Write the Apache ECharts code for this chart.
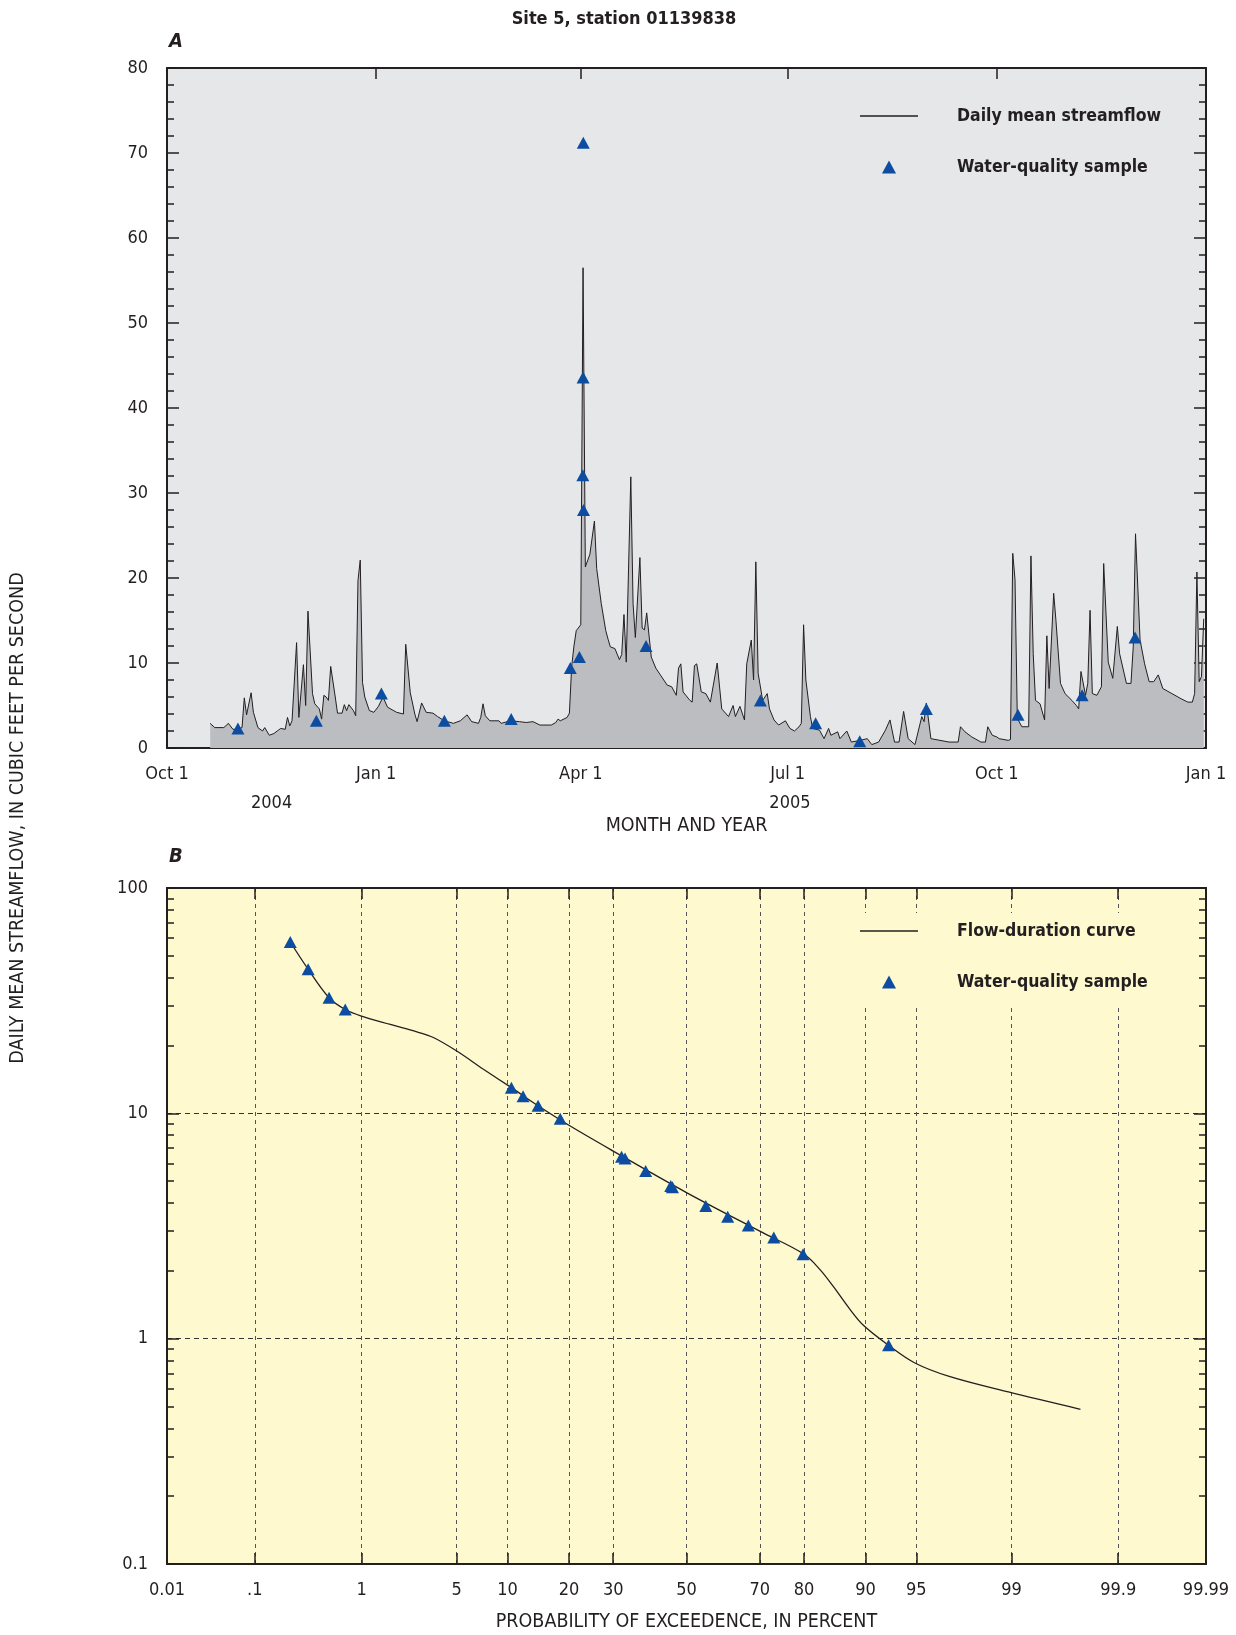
<!DOCTYPE html>
<html><head><meta charset="utf-8">
<script src="https://cdn.jsdelivr.net/npm/echarts@6/dist/echarts.min.js"></script>
<style>html,body{margin:0;padding:0;background:#fff}#c{width:1236px;height:1635px}</style>
</head><body><div id="c"></div><script>
// ---------------- Panel A data (days counted from 2004-10-01) ----------------
const startDate = '2004-10-01';
const flowDays = [19,21,25,27,29,31,33,34,35,37,38,40,42,43,45,47,49,50,52,53,54,55,57,58,60,61,62,64,65,67,68,69,70,71,72,74,75,77,78,79,80,82,83,84,85,86,87,89,91,93,95,97,99,101,104,105,107,109,110,112,114,117,119,122,126,129,132,134,137,138,139,140,142,146,147,151,155,158,161,164,169,171,172,173,176,177,178,179,180,182,183,184,186,188,189,191,193,194,195,197,199,200,201,202,204,205,206,208,209,210,211,213,215,217,220,222,224,225,226,227,230,231,232,233,235,237,239,242,244,247,249,250,252,254,255,257,258,259,260,262,264,265,267,269,272,274,276,278,279,280,281,283,284,287,289,291,292,295,296,299,301,305,308,310,313,316,318,320,322,324,326,329,332,333,334,336,340,344,348,349,351,354,358,360,361,363,365,366,370,371,372,373,374,376,379,380,381,382,384,386,387,388,390,391,393,395,398,400,401,402,404,405,406,407,409,411,412,414,416,418,419,422,424,425,426,428,430,432,434,436,438,442,446,449,451,452,453,454,455,456];
const flowValues = [2.9,2.4,2.4,2.9,2.2,2.2,2.4,5.9,3.9,6.5,4.2,2.4,2.0,2.4,1.5,1.7,2.1,2.3,2.2,3.6,2.6,3.2,12.4,3.6,9.8,5.0,16.1,6.4,5.2,4.6,3.4,6.2,6.0,5.6,9.6,6.0,4.1,4.1,5.1,4.4,5.1,4.4,3.8,19.7,22.1,7.7,6.0,4.4,4.2,4.9,6.0,4.8,4.5,4.2,4.0,12.2,6.5,4.0,3.1,5.3,4.2,4.1,3.7,3.2,2.9,3.2,3.9,3.1,2.9,3.6,5.2,3.8,3.2,3.2,2.9,3.2,3.1,3.0,3.1,2.7,2.7,3.0,3.4,3.2,3.6,4.1,9.6,12.0,13.8,14.5,56.5,21.3,22.8,26.7,21.1,17.0,13.8,12.8,11.9,11.7,10.4,11.0,15.7,10.1,31.9,17.0,13.0,22.4,14.1,13.9,15.9,10.7,9.4,8.6,7.4,7.2,6.2,9.4,9.9,6.6,5.6,5.4,9.7,9.9,6.6,6.4,5.4,10.0,4.6,3.7,5.0,3.7,4.9,3.3,9.9,12.7,8.0,21.9,8.8,5.6,6.4,4.6,3.3,2.7,3.2,2.3,2.0,2.5,2.9,14.5,8.0,3.7,2.3,2.1,1.1,2.3,1.5,1.9,1.1,2.0,0.7,0.9,1.1,0.4,0.7,2.1,3.3,0.7,0.7,4.3,1.1,0.4,3.7,3.1,5.3,1.1,0.9,0.7,0.7,2.5,1.9,1.3,0.7,0.7,2.5,1.5,1.3,1.1,0.9,1.0,22.9,19.8,3.5,2.5,2.5,22.6,11.1,5.6,5.2,3.3,13.2,7.0,18.2,15.0,7.6,6.4,5.6,5.0,4.6,9.0,6.2,7.6,16.2,6.4,6.2,7.2,21.7,10.1,8.2,14.3,11.1,7.6,7.6,11.9,25.2,12.7,9.9,7.8,7.8,8.6,7.0,6.4,5.8,5.4,5.4,6.4,20.7,7.8,8.4,15.2];
const sampleDays = [31.2,65.7,94.3,122,151.4,177.4,181.4,182.9,183.0,183.1,183.2,210.7,261,285.3,304.7,334,374.3,402.5,425.8];
const sampleValues = [2.3,3.2,6.4,3.2,3.4,9.4,10.7,32.1,43.6,71.2,28.0,12.0,5.6,2.9,0.8,4.6,3.9,6.2,13.0];
const quarterTickDays = [0,92,182,273,365,457];
const quarterTickLabels = ['Oct 1','Jan 1','Apr 1','Jul 1','Oct 1','Jan 1'];
const yearLabelDays = [46,274];
const yearLabels = ['2004','2005'];

// ---------------- Panel B data ----------------
const probTickPct = [0.01,0.1,1,5,10,20,30,50,70,80,90,95,99,99.9,99.99];
const probTickLabels = ['0.01','.1','1','5','10','20','30','50','70','80','90','95','99','99.9','99.99'];
const curvePct = [0.228,0.338,0.525,0.728,1.0,1.7,2.68,3.5,5,7.3,10.5,14.4,20,30,50,70,80,83,85.3,87.9,89.8,92.6,94.9,97,98.94,99.76];
const curveFlow = [57.6,43.6,32.6,28.9,27.0,24.8,23.0,21.7,18.9,15.7,13.0,10.8,8.85,6.8,4.45,3.0,2.37,2.03,1.71,1.35,1.14,0.934,0.78,0.68,0.58,0.486];
const samplePct = [0.228,0.338,0.525,0.728,10.5,12.1,14.4,18.3,32.1,33.0,38.5,45.5,46.0,55.5,61.6,67.1,73.4,79.8,92.6];
const sampleFlow = [57.6,43.6,32.6,28.9,13.0,11.9,10.8,9.47,6.42,6.31,5.55,4.76,4.70,3.88,3.48,3.18,2.81,2.37,0.934];
const logMajor = [0.1,1,10,100];
const logMajorLabels = ['0.1','1','10','100'];
const logMinor = [0.2,0.3,0.4,0.5,0.6,0.7,0.8,0.9,2,3,4,5,6,7,8,9,20,30,40,50,60,70,80,90];

// inverse standard normal CDF (Acklam) - probability axis transform
function normInv(p){
  const a=[-3.969683028665376e+01,2.209460984245205e+02,-2.759285104469687e+02,1.383577518672690e+02,-3.066479806614716e+01,2.506628277459239e+00];
  const b=[-5.447609879822406e+01,1.615858368580409e+02,-1.556989798598866e+02,6.680131188771972e+01,-1.328068155288572e+01];
  const c=[-7.784894002430293e-03,-3.223964580411365e-01,-2.400758277161838e+00,-2.549732539343734e+00,4.374664141464968e+00,2.938163982698783e+00];
  const d=[7.784695709041462e-03,3.224671290700398e-01,2.445134137142996e+00,3.754408661907416e+00];
  const pl=0.02425, ph=1-pl; let q,r;
  if(p<pl){q=Math.sqrt(-2*Math.log(p));return (((((c[0]*q+c[1])*q+c[2])*q+c[3])*q+c[4])*q+c[5])/((((d[0]*q+d[1])*q+d[2])*q+d[3])*q+1);}
  if(p>ph){q=Math.sqrt(-2*Math.log(1-p));return -(((((c[0]*q+c[1])*q+c[2])*q+c[3])*q+c[4])*q+c[5])/((((d[0]*q+d[1])*q+d[2])*q+d[3])*q+1);}
  q=p-0.5;r=q*q;return (((((a[0]*r+a[1])*r+a[2])*r+a[3])*r+a[4])*r+a[5])*q/(((((b[0]*r+b[1])*r+b[2])*r+b[3])*r+b[4])*r+1);
}
const zOf = pct => normInv(pct/100);
const probTickZ = probTickPct.map(zOf);
const zMin = probTickZ[0], zMax = probTickZ[probTickZ.length-1];

// ---------------- styling ----------------
const FONT = '"Liberation Sans Narrow","DejaVu Sans Condensed","Arial Narrow","Liberation Sans",sans-serif';
const TXT = '#231f20';
const BLUE = '#0d4da1';
const BG_A = '#e6e7e9';
const BG_B = '#fef9ce';
const AREA = '#bcbdc0';
const lbl = {color:TXT, fontFamily:FONT, fontSize:18};
const axLine = {onZero:false, lineStyle:{color:TXT, width:2}};
const tickStyle = {color:TXT, width:1.5};
const LINE_ICON = 'path://M0,0 L58,0 L58,1.3 L0,1.3 Z';
const TRI_ICON = 'path://M6.5,0 L13,12 L0,12 Z';

function nearestLabel(v, vals, labels){
  let bi=0, bd=Infinity;
  vals.forEach((x,i)=>{const dd=Math.abs(x-v); if(dd<bd){bd=dd;bi=i;}});
  return labels[bi];
}

const flowData = flowDays.map((d,i)=>[d, flowValues[i]]);
const sampleDataA = sampleDays.map((d,i)=>[d, sampleValues[i]]);
const curveData = curvePct.map((p,i)=>[zOf(p), curveFlow[i]]);
const sampleDataB = samplePct.map((p,i)=>[zOf(p), sampleFlow[i]]);

const legendText = {color:TXT, fontFamily:FONT, fontWeight:'bold', fontSize:17.5, lineHeight:20, padding:[0,0,0,34]};

const chart = echarts.init(document.getElementById('c'), null, {renderer:'canvas'});
const option = {
  animation:false,
  backgroundColor:'#fff',
  grid:[
    {left:167, top:68, width:1039, height:680, show:true, backgroundColor:BG_A, borderWidth:0},
    {left:167, top:888, width:1039, height:676, show:true, backgroundColor:BG_B, borderWidth:0}
  ],
  xAxis:[
    {gridIndex:0, type:'value', min:0, max:457, position:'bottom',
     axisLine:axLine,
     axisTick:{show:true, inside:true, length:11, customValues:quarterTickDays, lineStyle:tickStyle},
     axisLabel:{customValues:quarterTickDays, margin:17, ...lbl,
       formatter:v=>nearestLabel(v, quarterTickDays, quarterTickLabels)},
     splitLine:{show:false},
     name:'MONTH AND YEAR', nameLocation:'middle', nameGap:68,
     nameTextStyle:{color:TXT, fontFamily:FONT, fontSize:19.5}},
    {gridIndex:0, type:'value', min:0, max:457, position:'bottom', offset:29,
     axisLine:{show:false, onZero:false}, axisTick:{show:false}, splitLine:{show:false},
     axisLabel:{customValues:yearLabelDays, margin:17, ...lbl,
       formatter:v=>nearestLabel(v, yearLabelDays, yearLabels)}},
    {gridIndex:0, type:'value', min:0, max:457, position:'top',
     axisLine:axLine,
     axisTick:{show:true, inside:true, length:11, customValues:quarterTickDays, lineStyle:tickStyle},
     axisLabel:{show:false}, splitLine:{show:false}},
    {gridIndex:1, type:'value', min:zMin, max:zMax, position:'bottom',
     axisLine:axLine,
     axisTick:{show:true, inside:true, length:11, customValues:probTickZ, lineStyle:tickStyle},
     axisLabel:{customValues:probTickZ, margin:17, ...lbl,
       formatter:v=>nearestLabel(v, probTickZ, probTickLabels)},
     splitLine:{show:true, lineStyle:{color:'#555', width:1, type:[4,4]}},
     name:'PROBABILITY OF EXCEEDENCE, IN PERCENT', nameLocation:'middle', nameGap:48,
     nameTextStyle:{color:TXT, fontFamily:FONT, fontSize:19.5}},
    {gridIndex:1, type:'value', min:zMin, max:zMax, position:'top',
     axisLine:axLine,
     axisTick:{show:true, inside:true, length:11, customValues:probTickZ, lineStyle:tickStyle},
     axisLabel:{show:false}, splitLine:{show:false}}
  ],
  yAxis:[
    {gridIndex:0, type:'value', min:0, max:80, interval:10, position:'left',
     axisLine:axLine,
     axisTick:{show:true, inside:true, length:12, lineStyle:tickStyle},
     minorTick:{show:true, splitNumber:5, length:7, lineStyle:tickStyle},
     axisLabel:{margin:19, ...lbl}, splitLine:{show:false}},
    {gridIndex:0, type:'value', min:0, max:80, interval:10, position:'right',
     axisLine:axLine,
     axisTick:{show:true, inside:true, length:12, lineStyle:tickStyle},
     minorTick:{show:true, splitNumber:5, length:7, lineStyle:tickStyle},
     axisLabel:{show:false}, splitLine:{show:false}},
    {gridIndex:1, type:'log', logBase:10, min:0.1, max:100, position:'left',
     axisLine:axLine,
     axisTick:{show:true, inside:true, length:7, customValues:logMinor, lineStyle:tickStyle},
     axisLabel:{show:false}, splitLine:{show:false}},
    {gridIndex:1, type:'log', logBase:10, min:0.1, max:100, position:'left',
     axisLine:axLine,
     axisTick:{show:true, inside:true, length:12, customValues:logMajor, lineStyle:tickStyle},
     axisLabel:{customValues:logMajor, margin:19, ...lbl, formatter:v=>nearestLabel(v, logMajor, logMajorLabels)},
     splitLine:{show:true, lineStyle:{color:'#333', width:1, type:[5,4]}}},
    {gridIndex:1, type:'log', logBase:10, min:0.1, max:100, position:'right',
     axisLine:axLine,
     axisTick:{show:true, inside:true, length:7, customValues:logMinor, lineStyle:tickStyle},
     axisLabel:{show:false}, splitLine:{show:false}},
    {gridIndex:1, type:'log', logBase:10, min:0.1, max:100, position:'right',
     axisLine:axLine,
     axisTick:{show:true, inside:true, length:12, customValues:logMajor, lineStyle:tickStyle},
     axisLabel:{show:false}, splitLine:{show:false}}
  ],
  legend:[
    {orient:'vertical', left:860, top:106, padding:0, itemWidth:58, itemHeight:13, itemGap:31,
     selectedMode:false, symbolKeepAspect:true, textStyle:legendText,
     data:[
       {name:'Daily mean streamflow', icon:LINE_ICON, itemStyle:{color:TXT, borderWidth:0}},
       {name:'Water-quality sample', icon:TRI_ICON, itemStyle:{color:BLUE, borderWidth:0}}
     ]},
    {orient:'vertical', left:857, top:913, padding:[8,12,14,3], backgroundColor:BG_B,
     itemWidth:58, itemHeight:13, itemGap:31, selectedMode:false, symbolKeepAspect:true,
     textStyle:legendText,
     data:[
       {name:'Flow-duration curve', icon:LINE_ICON, itemStyle:{color:TXT, borderWidth:0}},
       {name:'Water-quality sample', icon:TRI_ICON, itemStyle:{color:BLUE, borderWidth:0}}
     ]}
  ],
  series:[
    {name:'Daily mean streamflow', type:'line', xAxisIndex:0, yAxisIndex:0, data:flowData,
     symbol:'none', lineStyle:{color:TXT, width:1}, itemStyle:{color:TXT},
     areaStyle:{color:AREA, opacity:1}, z:2},
    {name:'Water-quality sample', type:'scatter', xAxisIndex:0, yAxisIndex:0, data:sampleDataA,
     symbol:'triangle', symbolSize:[13,12], itemStyle:{color:BLUE, opacity:1}, z:4},
    {name:'Flow-duration curve', type:'line', xAxisIndex:3, yAxisIndex:3, data:curveData,
     symbol:'none', smooth:0.35, lineStyle:{color:TXT, width:1.3}, itemStyle:{color:TXT}, z:3},
    {name:'Water-quality sample', type:'scatter', xAxisIndex:3, yAxisIndex:3, data:sampleDataB,
     symbol:'triangle', symbolSize:[13,12], itemStyle:{color:BLUE, opacity:1}, z:4}
  ],
  graphic:[
    {type:'text', x:624, y:19, style:{text:'Site 5, station 01139838', fill:TXT, font:'bold 18px '+FONT, textAlign:'center', textVerticalAlign:'middle'}},
    {type:'text', x:169, y:42, style:{text:'A', fill:TXT, font:'italic bold 20px '+FONT, textAlign:'left', textVerticalAlign:'middle'}},
    {type:'text', x:169, y:857, style:{text:'B', fill:TXT, font:'italic bold 20px '+FONT, textAlign:'left', textVerticalAlign:'middle'}},
    {type:'text', x:18, y:818, rotation:Math.PI/2, style:{text:'DAILY MEAN STREAMFLOW, IN CUBIC FEET PER SECOND', fill:TXT, font:'19.5px '+FONT, textAlign:'center', textVerticalAlign:'middle'}}
  ]
};
chart.setOption(option);
</script></body></html>
